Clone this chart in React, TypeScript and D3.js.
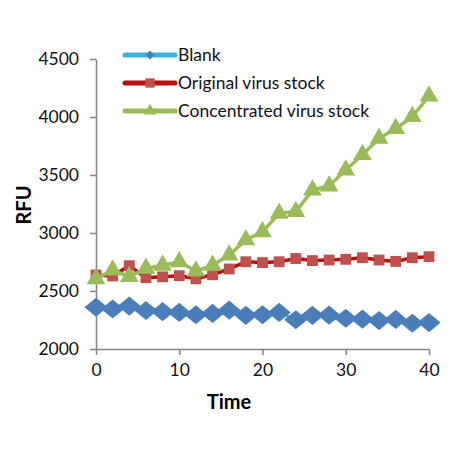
import * as d3 from "d3";
import React, { useRef, useEffect } from "react";

const times = [0, 2, 4, 6, 8, 10, 12, 14, 16, 18, 20, 22, 24, 26, 28, 30, 32, 34, 36, 38, 40];
const blank = [2360, 2345, 2370, 2332, 2322, 2315, 2295, 2307, 2335, 2290, 2295, 2315, 2252, 2290, 2292, 2265, 2257, 2245, 2255, 2222, 2228];
const original = [2638, 2630, 2718, 2615, 2622, 2632, 2605, 2640, 2690, 2752, 2745, 2752, 2780, 2762, 2767, 2773, 2787, 2767, 2755, 2787, 2796];
const concentrated = [2605, 2680, 2625, 2695, 2722, 2752, 2672, 2722, 2810, 2940, 3010, 3170, 3185, 3370, 3405, 3543, 3675, 3815, 3900, 4003, 4180];
const seriesNames = ["Blank", "Original virus stock", "Concentrated virus stock"];
const xTicks = [0, 10, 20, 30, 40];
const yTicks = [2000, 2500, 3000, 3500, 4000, 4500];

const styles = [
  { line: "#3fb3e0", marker: "#4a7ebb", shape: d3.symbolDiamond2 },
  { line: "#b80f0f", marker: "#c0504d", shape: d3.symbolSquare2 },
  { line: "#9bbb59", marker: "#9bbb59", shape: d3.symbolTriangle2 },
];

export default function App() {
  const svgRef = useRef<SVGSVGElement | null>(null);

  useEffect(() => {
    if (!svgRef.current) return;
    const svg = d3.select(svgRef.current);
    svg.selectAll("*").remove();

    const font = "Lato, 'Open Sans', sans-serif";
    const x = d3.scaleLinear().domain([0, 40]).range([96, 429]);
    const y = d3.scaleLinear().domain([2000, 4500]).range([349, 59]);

    // axes
    const yAxis = svg.append("g").attr("transform", "translate(96,0)")
      .call(d3.axisLeft(y).tickValues(yTicks).tickSize(6).tickSizeOuter(0).tickFormat(d3.format("d")));
    yAxis.select(".domain").attr("stroke", "#868686").attr("stroke-width", 1.5);
    yAxis.selectAll(".tick line").attr("stroke", "#868686").attr("stroke-width", 1.5);
    yAxis.selectAll("text").attr("font-family", font).attr("font-size", 17.5).attr("fill", "#111").attr("x", -17);

    const xAxis = svg.append("g").attr("transform", "translate(0,349)")
      .call(d3.axisBottom(x).tickValues(xTicks).tickSize(6).tickSizeOuter(0));
    xAxis.select(".domain").attr("stroke", "#868686").attr("stroke-width", 1.5);
    xAxis.selectAll(".tick line").attr("stroke", "#868686").attr("stroke-width", 1.5);
    xAxis.selectAll("text").attr("font-family", font).attr("font-size", 17.5).attr("fill", "#111").attr("y", 15);

    svg.append("text").attr("x", 229).attr("y", 409).attr("text-anchor", "middle")
      .attr("font-family", font).attr("font-weight", "bold").attr("font-size", 20).text("Time");
    svg.append("text").attr("transform", "translate(31,205) rotate(-90)").attr("text-anchor", "middle")
      .attr("font-family", font).attr("font-weight", "bold").attr("font-size", 20).text("RFU");

    const allSeries = [blank, original, concentrated];
    const sizes = [260, 150, 250];
    const line = d3.line<number>().x((_, i) => x(times[i])).y((d) => y(d));

    allSeries.forEach((vals, s) => {
      const st = styles[s];
      svg.append("path").datum(vals).attr("d", line).attr("fill", "none")
        .attr("stroke", st.line).attr("stroke-width", 3.5);
      svg.append("g").selectAll("path").data(vals).enter().append("path")
        .attr("d", d3.symbol().type(st.shape).size(sizes[s])())
        .attr("transform", (d, i) => `translate(${x(times[i])},${y(d)})${s === 0 ? " scale(1.15,0.95)" : ""}`)
        .attr("fill", st.marker);
    });

    // legend
    const legend = svg.append("g");
    seriesNames.forEach((name, i) => {
      const ly = 55 + i * 28;
      const st = styles[i];
      legend.append("line").attr("x1", 125).attr("x2", 175).attr("y1", ly).attr("y2", ly)
        .attr("stroke", st.line).attr("stroke-width", 5).attr("stroke-linecap", "round");
      legend.append("path").attr("d", d3.symbol().type(st.shape).size(i === 0 ? 50 : 110)())
        .attr("transform", `translate(150,${ly})`).attr("fill", st.marker);
      legend.append("text").attr("x", 178).attr("y", ly + 6).attr("font-family", font)
        .attr("font-size", 17.5).attr("fill", "#111").text(name);
    });
  }, []);

  return (
    <svg ref={svgRef} width={452} height={452}
      style={{ display: "block", position: "absolute", left: 0, top: 0, background: "#fff" }}></svg>
  );
}
